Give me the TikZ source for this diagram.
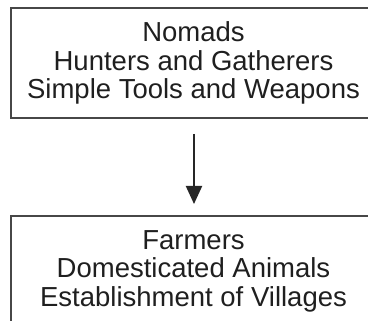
\documentclass[tikz,border=0pt]{standalone}
\usepackage{fontspec}
\setmainfont{Liberation Sans}
\usetikzlibrary{positioning}
\usetikzlibrary{arrows.meta}

\begin{document}
\begin{tikzpicture}[
    x=1pt, y=1pt,
    stage/.style={draw=black!72, line width=2pt, rectangle, minimum width=365pt, minimum height=110pt,
      align=center, text=black!88, font=\fontsize{27.5}{28.5}\selectfont, inner sep=0pt},
    >={Triangle[length=18pt,width=16pt]}
]
\useasboundingbox (0,0) rectangle (368,321);

% top stage
\node[stage] (nomads) at (193.5,258) {Nomads\\Hunters and Gatherers\\Simple Tools and Weapons};

% bottom stage
\node[stage, below=96pt of nomads] (farmers) {Farmers\\Domesticated Animals\\Establishment of Villages};

% arrow
\draw[->, line width=2pt, black!85, shorten <=15pt, shorten >=11pt] ([xshift=0.5pt]nomads.south) -- ([xshift=0.5pt]farmers.north);

\end{tikzpicture}
\end{document}
